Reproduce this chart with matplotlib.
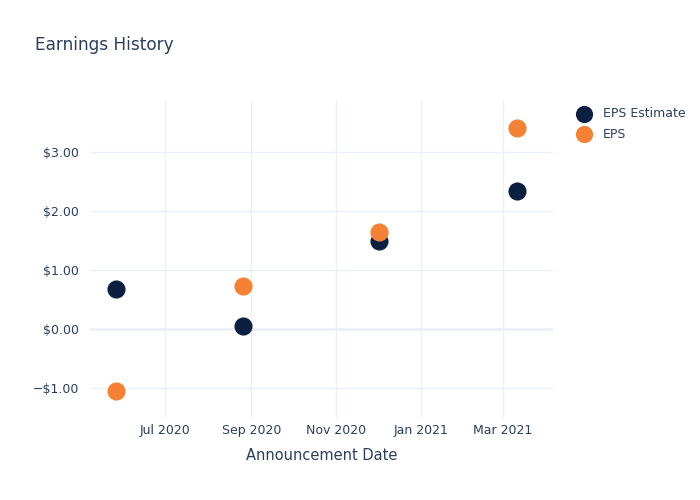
import numpy as np
import pandas as pd
import matplotlib
matplotlib.use("Agg")
import matplotlib.pyplot as plt
import matplotlib.dates as mdates
from matplotlib.ticker import FuncFormatter

# Earnings announcements
announce_dates = ["2020-05-27", "2020-08-26", "2020-12-02", "2021-03-11"]
eps_estimate = [0.68, 0.06, 1.49, 2.35]
eps_actual = [-1.05, 0.73, 1.64, 3.41]

navy = "#0b1f41"
orange = "#f58134"
text_color = "#2a3f5f"
grid_color = "#ebf0f8"

dates = pd.to_datetime(announce_dates)

fig = plt.figure(figsize=(7, 5), dpi=100)
ax = fig.add_axes([90 / 700, 1 - 418 / 500, (553 - 90) / 700, (418 - 100) / 500])

ax.scatter(dates, eps_estimate, s=170, color=navy, label="EPS Estimate", zorder=3, linewidths=0)
ax.scatter(dates, eps_actual, s=170, color=orange, label="EPS", zorder=4, linewidths=0)

ax.set_xlim(pd.Timestamp("2020-05-08"), pd.Timestamp("2021-04-06"))
ax.set_ylim(-1.508, 3.887)

ax.xaxis.set_major_locator(mdates.MonthLocator(bymonth=[1, 3, 5, 7, 9, 11]))
ax.xaxis.set_major_formatter(mdates.DateFormatter("%b %Y"))
ax.set_yticks([-1, 0, 1, 2, 3])


def dollar(v, pos):
    s = "${:.2f}".format(abs(v))
    return "\u2212" + s if v < 0 else s


ax.yaxis.set_major_formatter(FuncFormatter(dollar))

for side in ax.spines.values():
    side.set_visible(False)
ax.grid(True, color=grid_color, linewidth=1, zorder=0)
ax.axhline(0, color=grid_color, linewidth=2, zorder=1)
ax.tick_params(length=0, labelsize=9, colors=text_color)
ax.tick_params(axis="y", pad=8)
ax.tick_params(axis="x", pad=4)
ax.set_axisbelow(True)

ax.set_xlabel("Announcement Date", fontsize=10.5, color=text_color, labelpad=8)
fig.text(35 / 700, 1 - 45 / 500, "Earnings History", fontsize=12.2, color=text_color,
         va="center", ha="left")

fig.legend(loc="upper left", bbox_to_anchor=(566 / 700, 1 - 102 / 500), frameon=False,
           fontsize=9, labelcolor=text_color, handletextpad=0.55, labelspacing=0.62,
           markerscale=0.95, borderaxespad=0)

fig.savefig("out.png", dpi=100)
